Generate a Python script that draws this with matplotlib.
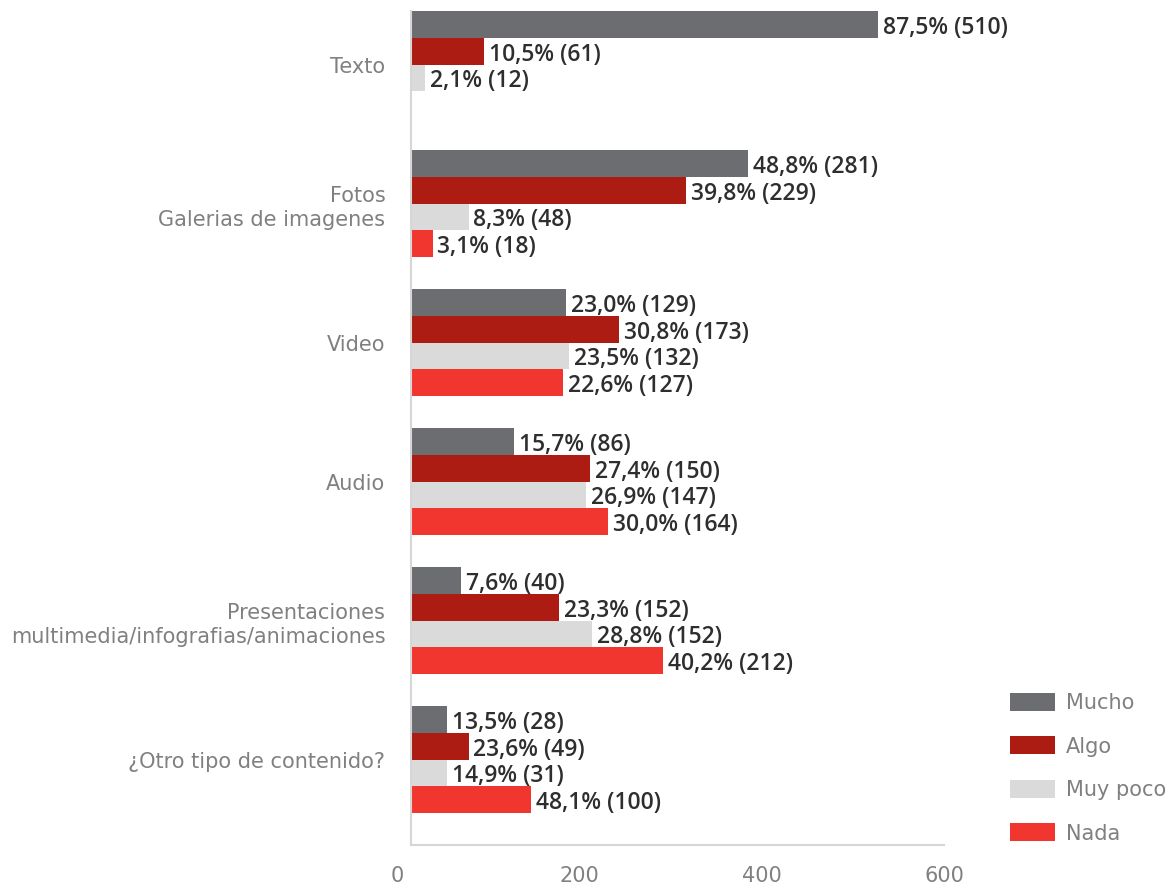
import numpy as np
import matplotlib
matplotlib.use("Agg")
import matplotlib.pyplot as plt

categories = [
    "Texto",
    "Fotos\nGalerias de imagenes",
    "Video",
    "Audio",
    "Presentaciones\nmultimedia/infografias/animaciones",
    "¿Otro tipo de contenido?",
]
series = ["Mucho", "Algo", "Muy poco", "Nada"]
colors = ["#6c6d71", "#ad1c12", "#d9dad9", "#f1362f"]

# bar lengths as drawn in the picture
mucho = [389, 281, 129, 86, 42, 30]
algo = [61, 229, 173, 149, 123, 48]
muy_poco = [12, 48, 132, 146, 151, 30]
nada = [0, 18, 127, 164, 210, 100]

# value labels as printed next to each bar
mucho_lbl = ["87,5% (510)", "48,8% (281)", "23,0% (129)", "15,7% (86)", "7,6% (40)", "13,5% (28)"]
algo_lbl = ["10,5% (61)", "39,8% (229)", "30,8% (173)", "27,4% (150)", "23,3% (152)", "23,6% (49)"]
muy_poco_lbl = ["2,1% (12)", "8,3% (48)", "23,5% (132)", "26,9% (147)", "28,8% (152)", "14,9% (31)"]
nada_lbl = ["", "3,1% (18)", "22,6% (127)", "30,0% (164)", "40,2% (212)", "48,1% (100)"]

x_ticks = [0, 200, 400, 600]

W, H = 1168, 888
GREY = "#808080"
LINE = "#d6d6d6"


def main():
    fig = plt.figure(figsize=(W / 100, H / 100), dpi=100)
    ax = fig.add_axes([411 / W, 1 - 845 / H, 533 / W, 834 / H])

    h = 26.8 / 139
    values = [mucho, algo, muy_poco, nada]
    labels = [mucho_lbl, algo_lbl, muy_poco_lbl, nada_lbl]
    base = np.arange(len(categories))
    handles = []
    for k in range(len(series)):
        y = base + (k + 0.5) * h
        bars = ax.barh(y, values[k], height=h, color=colors[k], label=series[k])
        handles.append(bars)
        for yy, v, txt in zip(y, values[k], labels[k]):
            if txt:
                ax.annotate(txt, (v, yy), xytext=(3.5, -2.5), textcoords="offset points",
                            va="center", ha="left", fontsize=16.5, family="Open Sans",
                            fontweight="semibold", color="#2e2e2e")

    ax.set_xlim(0, 444)
    ax.set_ylim(len(categories), 0)
    ax.set_xticks([])
    ax.set_yticks(base + 2 * h)
    ax.set_yticklabels(categories, fontsize=15, color=GREY, linespacing=1.25)
    ax.tick_params(axis="y", length=0, pad=18.5)
    for s in ["top", "right"]:
        ax.spines[s].set_visible(False)
    for s in ["left", "bottom"]:
        ax.spines[s].set_color(LINE)
        ax.spines[s].set_linewidth(1.5)

    # count scale printed under the chart
    ax2 = fig.add_axes([397 / W, 1 - 845 / H, 547 / W, 0.0001])
    ax2.set_xlim(0, 600)
    ax2.set_xticks(x_ticks)
    ax2.set_xticklabels([str(t) for t in x_ticks], fontsize=15, color=GREY)
    ax2.tick_params(axis="x", length=0, pad=15)
    ax2.set_yticks([])
    ax2.patch.set_visible(False)
    for s in ax2.spines.values():
        s.set_visible(False)

    fig.legend(handles, series, loc="upper left", bbox_to_anchor=(1010 / W, 1 - 693 / H),
               frameon=False, fontsize=15, labelcolor=GREY, handlelength=2.15,
               handleheight=0.95, handletextpad=0.55, labelspacing=1.12,
               borderpad=0, borderaxespad=0)

    fig.savefig("out.png", dpi=100)


if __name__ == '__main__':
    main()
